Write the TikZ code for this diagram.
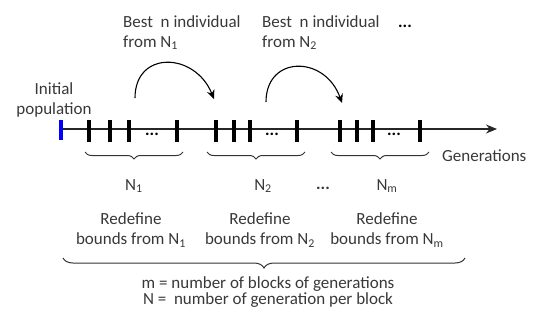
\documentclass[tikz,border=0pt]{standalone}
\usepackage{fontspec}
\setmainfont{Carlito}
\usetikzlibrary{decorations.pathreplacing,arrows.meta}
\begin{document}
\begin{tikzpicture}[x=1pt,y=-1pt,
  txt/.style={text=black!78,font=\fontsize{17}{20}\selectfont,inner sep=0pt,align=center},
  tick/.style={line width=3.4pt,black},
  brc/.style={decorate,decoration={brace,amplitude=7pt},line width=1pt,black!80},
  curv/.style={line width=1.1pt,-{Stealth[length=9pt,width=8pt]}}]
\useasboundingbox (0,0) rectangle (540,322);
% axis
\coordinate (ax0) at (61,129);
\coordinate (ax1) at (497,129);
\draw[line width=1.2pt,black!85,-{Stealth[length=11pt,width=9pt]}] (ax0) -- (ax1);
\draw[line width=3.2pt,blue] (61,120) -- (61,140);
\foreach \x in {89,110,129,177, 216,234,250,297, 340,357,373,420}
  \draw[tick] (\x,120) -- (\x,142);
\node[txt,text=black] (d1) at (152,134) {\textbf{...}};
\node[txt,text=black] (d2) at (272,134) {\textbf{...}};
\node[txt,text=black] (d3) at (394,134) {\textbf{...}};
% labels
\node[txt] (init) at (54,100) {Initial\\population};
\node[txt,anchor=west] (gen) at (442,156) {Generations};
% braces
\draw[brc] (183,152) -- (85,152);
\draw[brc] (305,152) -- (207,152);
\draw[brc] (429,152) -- (331,152);
\node[txt] (n1) at (134,186) {N\textsubscript{1}};
\node[txt] (n2) at (263,186) {N\textsubscript{2}};
\node[txt] (dd) at (323,188) {\textbf{...}};
\node[txt] (nm) at (387,186) {N\textsubscript{m}};
\node[txt] (r1) at (131,230) {Redefine\\bounds from N\textsubscript{1}};
\node[txt] (r2) at (260,230) {Redefine\\bounds from N\textsubscript{2}};
\node[txt] (r3) at (387,230) {Redefine\\bounds from N\textsubscript{m}};
\draw[brc,decoration={brace,amplitude=10pt}] (465,258) -- (63,258);
\node[txt,font=\fontsize{17}{16}\selectfont] (leg) at (268,292) {m = number of blocks of generations\\N =\ \ number of generation per block};
% top labels
\node[txt,align=left,anchor=north west] (b1) at (123,15) {Best\ \ n individual\\from N\textsubscript{1}};
\node[txt,align=left,anchor=north west] (b2) at (262,15) {Best\ \ n individual\\from N\textsubscript{2}};
\node[txt,text=black] (d4) at (405,26) {\textbf{...}};
% curved arrows
\coordinate (a1s) at (135,98);
\coordinate (a1e) at (214,99);
\coordinate (a2s) at (266,102);
\coordinate (a2e) at (342,103);
\draw[curv] (a1s) .. controls (135,50) and (195,52) .. (a1e);
\draw[curv] (a2s) .. controls (266,55) and (325,55) .. (a2e);
\end{tikzpicture}
\end{document}
